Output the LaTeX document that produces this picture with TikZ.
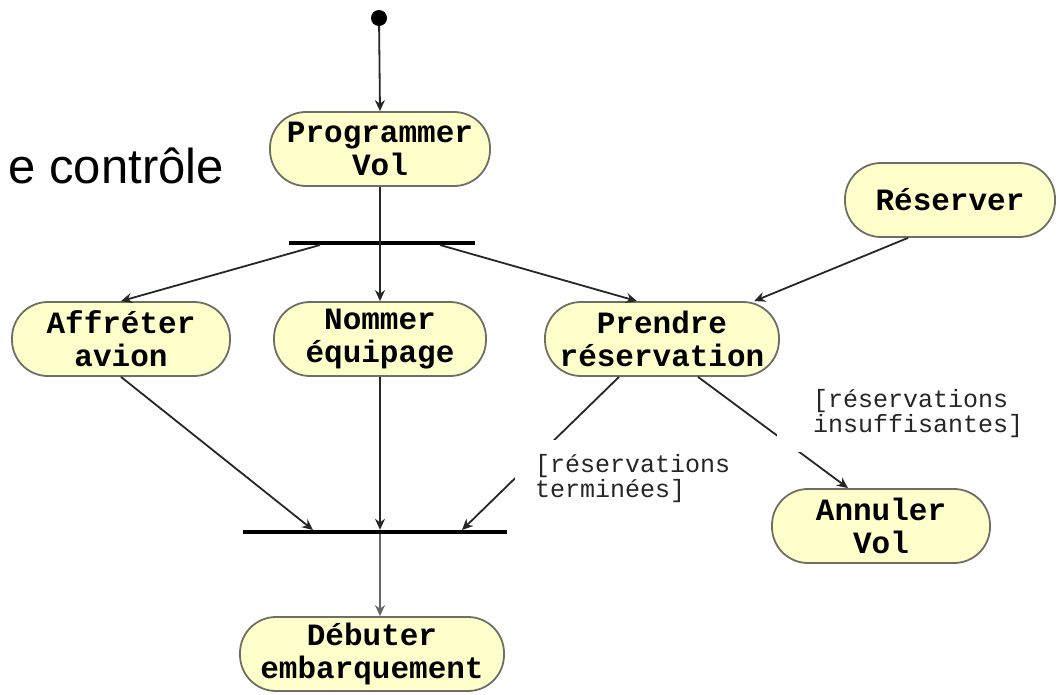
\documentclass[tikz,border=0pt]{standalone}
\usepackage{fontspec}
\setmainfont{Liberation Sans}
\newfontfamily\monofnt{Liberation Mono}
\usetikzlibrary{arrows.meta}
\definecolor{actfill}{RGB}{255,255,204}
\definecolor{actdraw}{RGB}{110,110,100}
\begin{document}
\begin{tikzpicture}[x=1pt,y=-1pt,
  act/.style={draw=actdraw, fill=actfill, line width=1.8pt, rounded corners=36pt,
    minimum height=74pt, inner sep=0pt, align=center,
    font=\monofnt\bfseries\fontsize{31}{33}\selectfont},
  bar/.style={fill=black, inner sep=0pt, minimum height=4pt},
  flow/.style={draw=black!85, line width=1.8pt, -{Stealth[length=11pt,width=10pt]}},
  plainline/.style={draw=black!85, line width=1.8pt},
  guard/.style={fill=white, align=left, font=\monofnt\fontsize{25}{25}\selectfont, text=black!85},
  initnode/.style={circle, fill=black, minimum size=16pt, inner sep=0pt},
  titletext/.style={font=\fontsize{49}{55}\selectfont, inner sep=0pt}
]
\useasboundingbox (0,0) rectangle (1060,694);

\node[titletext, anchor=base east] (title) at (224,183) {e contrôle};

\node[initnode] (init) at (379,18) {};
\node[act, minimum width=220pt] (prog) at (380,149) {Programmer\\Vol};
\node[bar, minimum width=186pt] (fork) at (382,243) {};
\node[act, minimum width=218pt] (aff) at (121,339) {Affréter\\avion};
\node[act, minimum width=212pt] (nom) at (380,339) {Nommer\\équipage};
\node[act, minimum width=234pt] (pre) at (662,339) {Prendre\\réservation};
\node[act, minimum width=210pt] (res) at (950,200) {Réserver};
\node[act, minimum width=218pt] (ann) at (881,526) {Annuler\\Vol};
\node[bar, minimum width=264pt] (join) at (375,532) {};
\node[act, minimum width=264pt] (deb) at (372,654) {Débuter\\embarquement};

\coordinate (fA) at (320,245);
\coordinate (fC) at (440,245);
\coordinate (jA) at (313,530);
\coordinate (jC) at (462,530);

\draw[flow] (init) -- (prog.north);
\draw[plainline] (prog.south) -- (prog.south |- fork.center);
\draw[flow] (fA) -- (aff.north);
\draw[flow] (prog.south |- fork.center) -- (nom.north);
\draw[flow] (fC) -- ([xshift=-25pt]pre.north);
\draw[flow] ([xshift=-42pt]res.south) -- (pre);
\draw[flow] (aff.south) -- (jA);
\draw[flow] (nom.south) -- (nom.south |- join.north);
\draw[flow] ([xshift=-43pt]pre.south) -- (jC);
\draw[flow] ([xshift=36pt]pre.south) -- ([xshift=-33pt]ann.north);
\draw[flow, draw=black!60] (nom |- join.south) -- (nom |- deb.north);

\node[guard, anchor=north west, inner xsep=20pt, inner ysep=14pt] (g1) at (515,440) {[réservations\\terminées]};
\node[guard, anchor=south west, inner xsep=36pt, inner ysep=14pt] (g2) at (777,452) {[réservations\\insuffisantes]};
\end{tikzpicture}
\end{document}
